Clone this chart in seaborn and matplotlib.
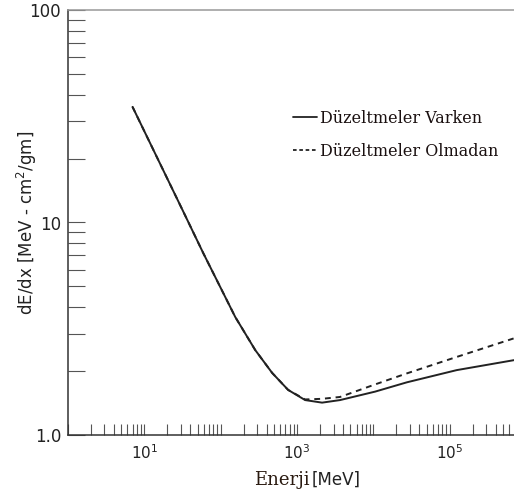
import numpy as np
import pandas as pd
import matplotlib
matplotlib.use("Agg")
import matplotlib.pyplot as plt
import matplotlib.ticker as mticker
from matplotlib.lines import Line2D
import seaborn as sns

# Data (energy in MeV, dE/dx in MeV cm^2/g)
energy_with = [7.0, 31.4, 59.0, 84.7, 155.0, 283.0, 471.0, 763.0, 1273.0, 2123.0, 3650.0, 10500.0, 27400.0, 123000.0, 690000.0]
dedx_with   = [35.0, 11.5, 7.18, 5.54, 3.59, 2.51, 1.96, 1.63, 1.46, 1.42, 1.46, 1.60, 1.77, 2.02, 2.25]
energy_without = [7.0, 31.4, 59.0, 84.7, 155.0, 283.0, 471.0, 763.0, 1273.0, 2123.0, 3650.0, 10500.0, 27400.0, 123000.0, 690000.0]
dedx_without   = [35.0, 11.5, 7.18, 5.54, 3.59, 2.51, 1.96, 1.63, 1.47, 1.48, 1.51, 1.73, 1.95, 2.33, 2.85]
series_names = ["Düzeltmeler Varken", "Düzeltmeler Olmadan"]
x_tick_labels = {10: r"$\mathregular{10^1}$", 1000: r"$\mathregular{10^3}$", 100000: r"$\mathregular{10^5}$"}
y_tick_labels = {1: "1.0", 10: "10", 100: "100"}

df = pd.concat([
    pd.DataFrame({"E": energy_with, "dEdx": dedx_with, "seri": series_names[0]}),
    pd.DataFrame({"E": energy_without, "dEdx": dedx_without, "seri": series_names[1]}),
])

sns.set_style("ticks")
plt.rcParams["font.family"] = ["DejaVu Sans"]

fig = plt.figure(figsize=(5.14, 4.98), dpi=100)
ax = fig.add_axes([68/514, 1-435/498, 1-68/514, (435-10)/498])

sns.lineplot(data=df, x="E", y="dEdx", style="seri", hue="seri",
             palette={series_names[0]: "#222222", series_names[1]: "#222222"},
             dashes={series_names[0]: "", series_names[1]: (3, 2.5)},
             linewidth=1.4, ax=ax, legend=False, sort=False, estimator=None)

ax.set_xscale("log")
ax.set_yscale("log")
ax.set_xlim(1.0, 10**5.84)
ax.set_ylim(1.0, 100.0)

# ticks
ax.xaxis.set_major_locator(mticker.LogLocator(base=10, numticks=20))
ax.xaxis.set_minor_locator(mticker.LogLocator(base=10, subs=np.arange(2, 10), numticks=20))
ax.xaxis.set_major_formatter(mticker.FuncFormatter(lambda v, p: x_tick_labels.get(int(round(v)), "")))
ax.xaxis.set_minor_formatter(mticker.NullFormatter())
ax.yaxis.set_major_locator(mticker.FixedLocator([1, 10, 100]))
ax.yaxis.set_minor_locator(mticker.LogLocator(base=10, subs=np.arange(2, 10), numticks=20))
ax.yaxis.set_major_formatter(mticker.FuncFormatter(lambda v, p: y_tick_labels.get(int(round(v)), "")))
ax.yaxis.set_minor_formatter(mticker.NullFormatter())

ax.tick_params(axis="x", which="both", direction="in", length=8, width=0.8, color="#555555",
               labelsize=11, pad=6, labelcolor="#222222")
ax.tick_params(axis="y", which="both", direction="in", length=12, width=0.8, color="#555555",
               labelsize=12, pad=5, labelcolor="#222222")

for s in ["left", "bottom"]:
    ax.spines[s].set_color("#333333")
    ax.spines[s].set_linewidth(1.1)
ax.spines["top"].set_color("#999999")
ax.spines["top"].set_linewidth(1.1)
ax.spines["right"].set_visible(False)

ax.set_ylabel(r"dE/dx [MeV - cm$^2$/gm]", fontsize=12, color="#222222", va="center")
ax.yaxis.set_label_coords((27 - 68) / 446, 0.5)
ax.set_xlabel("")
ax.text(0.541, -0.085, "Enerji", transform=ax.transAxes, ha="right", va="top",
        fontsize=13, family="DejaVu Serif", color="#2a1a10")
ax.text(0.547, -0.085, "[MeV]", transform=ax.transAxes, ha="left", va="top",
        fontsize=12, color="#222222")

handles = [Line2D([], [], color="#222222", lw=1.3, ls="-"),
           Line2D([], [], color="#222222", lw=1.3, ls=(0, (2, 1.5)))]
leg = ax.legend(handles, series_names, loc="upper left", bbox_to_anchor=(0.505, 0.765),
                frameon=False, handlelength=1.5, handletextpad=0.15, labelspacing=1.0,
                borderpad=0, borderaxespad=0,
                prop={"family": "DejaVu Serif", "size": 11.5})
for t in leg.get_texts():
    t.set_color("#1a1010")

fig.savefig("out.png", dpi=100)
